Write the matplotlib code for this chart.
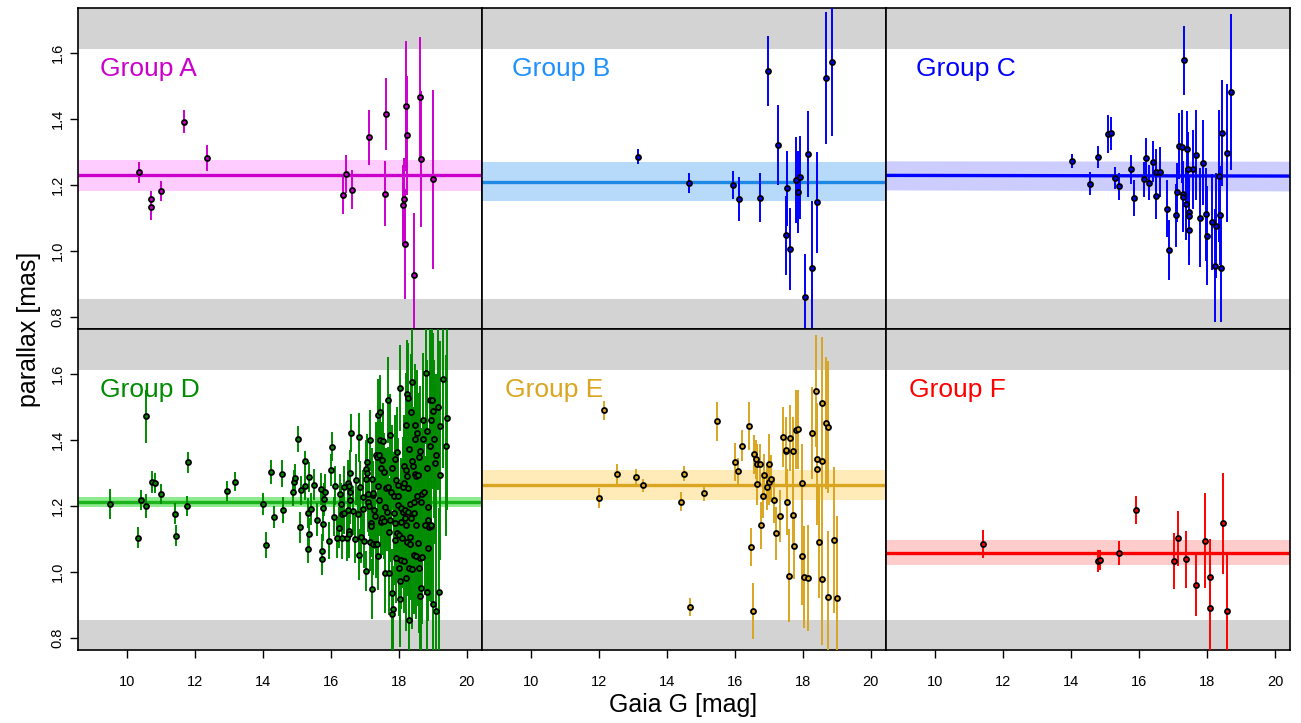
import matplotlib

matplotlib.use("Agg")
import matplotlib.pyplot as plt
import numpy as np

plt.rcParams["font.family"] = ["Liberation Sans", "DejaVu Sans"]

# --- data (Gaia G [mag], parallax [mas], parallax error [mas]) ---
a_mag = [10.36, 10.73, 10.73, 11.01, 11.69, 12.36, 16.35, 16.46, 16.62, 17.13,
         17.59, 17.62, 18.14, 18.13, 18.18, 18.21, 18.23, 18.44, 18.61, 18.65, 19.02]
a_plx = [1.239, 1.157, 1.134, 1.182, 1.392, 1.282, 1.170, 1.234, 1.186, 1.344,
         1.174, 1.416, 1.158, 1.140, 1.022, 1.439, 1.351, 0.926, 1.465, 1.280, 1.217]
a_err = [0.032, 0.025, 0.040, 0.030, 0.036, 0.040, 0.059, 0.058, 0.060, 0.083,
         0.099, 0.109, 0.124, 0.120, 0.167, 0.197, 0.180, 0.190, 0.184, 0.206, 0.272]

b_mag = [13.14, 14.64, 15.95, 16.13, 16.74, 16.97, 17.28, 17.50, 17.53, 17.63,
         17.80, 17.85, 17.91, 18.05, 18.15, 18.27, 18.43, 18.67, 18.87]
b_plx = [1.285, 1.206, 1.200, 1.157, 1.162, 1.545, 1.322, 1.048, 1.190, 1.006,
         1.216, 1.179, 1.223, 0.860, 1.295, 0.950, 1.148, 1.525, 1.572]
b_err = [0.023, 0.031, 0.043, 0.066, 0.075, 0.107, 0.121, 0.120, 0.114, 0.124,
         0.130, 0.123, 0.126, 0.130, 0.130, 0.200, 0.153, 0.200, 0.224]

c_mag = [14.04, 14.57, 14.81, 15.08, 15.19, 15.29, 15.40, 15.78, 15.85, 16.16,
         16.22, 16.30, 16.42, 16.50, 16.51, 16.62, 16.83, 16.87, 17.08, 17.13,
         17.18, 17.27, 17.29, 17.31, 17.34, 17.37, 17.42, 17.43, 17.47, 17.48,
         17.48, 17.60, 17.68, 17.79, 17.88, 17.96, 18.00, 18.14, 18.25, 18.28,
         18.34, 18.39, 18.40, 18.43, 18.59, 18.70]
c_plx = [1.272, 1.204, 1.285, 1.355, 1.357, 1.221, 1.196, 1.248, 1.160, 1.217,
         1.282, 1.207, 1.270, 1.239, 1.167, 1.239, 1.128, 1.003, 1.108, 1.178,
         1.319, 1.316, 1.173, 1.163, 1.577, 1.142, 1.309, 1.247, 1.118, 1.106,
         1.064, 1.247, 1.292, 1.101, 1.268, 1.111, 1.047, 1.089, 0.956, 1.077,
         1.226, 1.108, 0.950, 1.358, 1.297, 1.481]
c_err = [0.022, 0.034, 0.033, 0.058, 0.050, 0.034, 0.040, 0.044, 0.055, 0.052,
         0.060, 0.054, 0.062, 0.070, 0.070, 0.075, 0.086, 0.092, 0.096, 0.090,
         0.100, 0.110, 0.100, 0.105, 0.105, 0.110, 0.115, 0.112, 0.110, 0.118,
         0.105, 0.120, 0.136, 0.150, 0.130, 0.140, 0.150, 0.145, 0.170, 0.160,
         0.200, 0.150, 0.165, 0.160, 0.210, 0.237]

d_mag = [9.51, 10.32, 10.42, 10.56, 10.57, 10.74, 10.83, 11.00, 11.41, 11.45,
         11.77, 11.79, 12.96, 13.20, 14.00, 14.09, 14.23, 14.33, 14.58, 14.60,
         14.88, 14.91, 14.96, 15.05, 15.09, 15.12, 15.23, 15.24, 15.33, 15.33,
         15.36, 15.37, 15.41, 15.52, 15.60, 15.70, 15.73, 15.74, 15.78, 15.78,
         15.80, 15.82, 15.94, 16.00, 16.04, 16.10, 16.12, 16.17, 16.23, 16.28,
         16.30, 16.32, 16.34, 16.38, 16.40, 16.48, 16.50, 16.52, 16.53, 16.54,
         16.55, 16.56, 16.58, 16.58, 16.61, 16.65, 16.70, 16.75, 16.80, 16.82,
         16.82, 16.86, 16.90, 16.95, 16.96, 16.99, 17.03, 17.04, 17.05, 17.06,
         17.07, 17.10, 17.11, 17.13, 17.15, 17.16, 17.18, 17.19, 17.21, 17.22,
         17.23, 17.23, 17.25, 17.27, 17.30, 17.33, 17.34, 17.36, 17.37, 17.38,
         17.39, 17.40, 17.41, 17.42, 17.44, 17.46, 17.47, 17.48, 17.49, 17.51,
         17.52, 17.54, 17.56, 17.58, 17.59, 17.61, 17.63, 17.65, 17.67, 17.68,
         17.70, 17.72, 17.75, 17.75, 17.78, 17.79, 17.80, 17.81, 17.84, 17.85,
         17.86, 17.88, 17.90, 17.90, 17.92, 17.93, 17.94, 17.95, 17.97, 17.98,
         17.99, 18.00, 18.02, 18.03, 18.04, 18.05, 18.06, 18.07, 18.08, 18.10,
         18.11, 18.12, 18.14, 18.15, 18.16, 18.17, 18.19, 18.20, 18.20, 18.21,
         18.21, 18.23, 18.24, 18.25, 18.26, 18.27, 18.28, 18.29, 18.30, 18.31,
         18.32, 18.33, 18.34, 18.35, 18.36, 18.38, 18.39, 18.40, 18.42, 18.44,
         18.45, 18.46, 18.47, 18.48, 18.49, 18.50, 18.51, 18.52, 18.54, 18.55,
         18.56, 18.58, 18.59, 18.60, 18.61, 18.62, 18.63, 18.64, 18.65, 18.67,
         18.68, 18.71, 18.72, 18.75, 18.77, 18.81, 18.82, 18.83, 18.84, 18.85,
         18.86, 18.87, 18.89, 18.91, 18.93, 18.94, 18.95, 18.96, 18.99, 19.00,
         19.01, 19.04, 19.07, 19.09, 19.10, 19.16, 19.19, 19.20, 19.22, 19.30,
         19.39, 19.42]
d_plx = [1.205, 1.104, 1.219, 1.200, 1.472, 1.272, 1.269, 1.237, 1.177, 1.110,
         1.200, 1.332, 1.245, 1.274, 1.206, 1.082, 1.303, 1.166, 1.298, 1.188,
         1.241, 1.272, 1.284, 1.403, 1.135, 1.248, 1.337, 1.262, 1.178, 1.071,
         1.116, 1.288, 1.190, 1.264, 1.158, 1.251, 1.040, 1.063, 1.146, 1.194,
         1.221, 1.243, 1.095, 1.309, 1.380, 1.168, 1.262, 1.102, 1.134, 1.236,
         1.205, 1.175, 1.102, 1.180, 1.257, 1.102, 1.188, 1.270, 1.125, 1.115,
         1.261, 1.218, 1.243, 1.301, 1.421, 1.186, 1.100, 1.280, 1.177, 1.408,
         1.052, 1.257, 1.107, 1.226, 1.191, 1.095, 1.003, 1.281, 1.312, 1.333,
         1.299, 1.236, 1.213, 1.199, 1.399, 1.092, 1.148, 1.138, 1.281, 0.948,
         1.086, 1.234, 1.238, 1.188, 1.170, 1.354, 1.084, 1.349, 1.086, 1.474,
         1.050, 1.261, 1.355, 1.218, 1.399, 1.484, 1.151, 1.314, 1.155, 1.165,
         1.340, 1.397, 1.155, 1.304, 0.996, 1.198, 1.254, 1.183, 1.520, 1.256,
         1.120, 0.996, 1.415, 1.157, 1.243, 0.874, 1.316, 0.938, 0.888, 1.180,
         1.230, 1.096, 1.342, 1.147, 1.278, 1.044, 1.363, 1.117, 1.202, 1.264,
         1.231, 1.013, 1.112, 1.557, 0.973, 0.919, 1.153, 1.035, 1.195, 1.102,
         1.257, 1.181, 1.320, 1.270, 1.034, 1.187, 1.165, 1.446, 1.141, 0.981,
         1.310, 1.292, 1.092, 1.539, 1.528, 1.183, 1.254, 1.372, 1.011, 0.856,
         1.205, 1.086, 1.107, 1.486, 1.163, 1.574, 1.008, 1.337, 1.320, 1.052,
         1.180, 1.211, 1.446, 1.402, 1.297, 1.143, 1.048, 1.291, 1.422, 1.231,
         1.294, 1.089, 1.011, 1.349, 1.365, 1.042, 0.928, 1.213, 0.953, 1.235,
         1.045, 1.459, 1.403, 1.242, 1.141, 1.603, 1.427, 0.939, 1.314, 1.159,
         1.198, 1.074, 1.137, 1.383, 1.520, 1.460, 1.140, 1.143, 1.520, 1.488,
         0.902, 1.403, 1.329, 1.354, 0.883, 1.499, 0.939, 1.294, 1.441, 1.584,
         1.383, 1.467]
d_err = [0.045, 0.032, 0.030, 0.037, 0.080, 0.033, 0.030, 0.031, 0.032, 0.032,
         0.031, 0.032, 0.031, 0.030, 0.033, 0.039, 0.037, 0.033, 0.042, 0.039,
         0.040, 0.038, 0.042, 0.040, 0.048, 0.044, 0.030, 0.045, 0.046, 0.043,
         0.047, 0.045, 0.048, 0.047, 0.050, 0.049, 0.050, 0.052, 0.051, 0.053,
         0.050, 0.054, 0.055, 0.048, 0.044, 0.058, 0.060, 0.058, 0.062, 0.060,
         0.065, 0.062, 0.064, 0.066, 0.063, 0.068, 0.066, 0.070, 0.067, 0.071,
         0.069, 0.072, 0.070, 0.068, 0.058, 0.074, 0.072, 0.076, 0.078, 0.075,
         0.077, 0.080, 0.079, 0.082, 0.081, 0.084, 0.060, 0.085, 0.088, 0.086,
         0.090, 0.087, 0.091, 0.089, 0.092, 0.090, 0.094, 0.093, 0.095, 0.090,
         0.096, 0.094, 0.098, 0.097, 0.100, 0.099, 0.102, 0.101, 0.104, 0.110,
         0.103, 0.106, 0.105, 0.108, 0.107, 0.112, 0.110, 0.109, 0.113, 0.112,
         0.115, 0.114, 0.117, 0.116, 0.119, 0.118, 0.121, 0.120, 0.130, 0.123,
         0.122, 0.125, 0.124, 0.127, 0.126, 0.129, 0.128, 0.131, 0.130, 0.133,
         0.132, 0.135, 0.134, 0.137, 0.136, 0.139, 0.138, 0.141, 0.140, 0.143,
         0.142, 0.145, 0.144, 0.130, 0.147, 0.146, 0.149, 0.148, 0.151, 0.150,
         0.153, 0.152, 0.155, 0.154, 0.157, 0.156, 0.159, 0.158, 0.161, 0.160,
         0.163, 0.162, 0.165, 0.164, 0.167, 0.166, 0.169, 0.168, 0.171, 0.170,
         0.173, 0.172, 0.175, 0.174, 0.177, 0.176, 0.179, 0.178, 0.181, 0.180,
         0.183, 0.182, 0.185, 0.184, 0.187, 0.186, 0.189, 0.188, 0.191, 0.190,
         0.193, 0.192, 0.195, 0.194, 0.197, 0.196, 0.199, 0.198, 0.201, 0.200,
         0.203, 0.205, 0.207, 0.209, 0.211, 0.214, 0.216, 0.218, 0.217, 0.220,
         0.222, 0.221, 0.224, 0.226, 0.228, 0.227, 0.230, 0.232, 0.234, 0.236,
         0.238, 0.240, 0.243, 0.245, 0.247, 0.252, 0.255, 0.257, 0.260, 0.268,
         0.275, 0.280]

e_mag = [12.02, 12.14, 12.55, 13.09, 13.29, 14.43, 14.50, 14.67, 15.08, 15.48,
         16.01, 16.08, 16.22, 16.41, 16.48, 16.52, 16.57, 16.61, 16.64, 16.66,
         16.75, 16.76, 16.83, 16.86, 16.96, 17.00, 17.00, 17.05, 17.14, 17.21,
         17.33, 17.42, 17.49, 17.51, 17.54, 17.58, 17.63, 17.70, 17.72, 17.73,
         17.80, 17.85, 17.97, 17.98, 18.04, 18.14, 18.26, 18.38, 18.41, 18.42,
         18.46, 18.55, 18.57, 18.57, 18.69, 18.73, 18.73, 18.92, 19.01]
e_plx = [1.224, 1.490, 1.296, 1.287, 1.263, 1.213, 1.298, 0.894, 1.239, 1.456,
         1.333, 1.306, 1.383, 1.443, 1.075, 0.881, 1.356, 1.341, 1.268, 1.328,
         1.328, 1.142, 1.230, 1.293, 1.258, 1.328, 1.274, 1.283, 1.217, 1.117,
         1.169, 1.409, 1.367, 1.370, 1.211, 0.989, 1.407, 1.368, 1.173, 1.079,
         1.431, 1.432, 1.049, 1.269, 0.985, 0.981, 1.421, 1.548, 1.311, 1.342,
         1.090, 1.337, 1.512, 0.978, 1.450, 1.438, 0.923, 1.097, 0.920]
e_err = [0.031, 0.029, 0.032, 0.025, 0.020, 0.028, 0.022, 0.026, 0.025, 0.059,
         0.057, 0.040, 0.046, 0.073, 0.058, 0.085, 0.058, 0.060, 0.064, 0.060,
         0.060, 0.071, 0.065, 0.065, 0.070, 0.090, 0.070, 0.070, 0.070, 0.080,
         0.078, 0.090, 0.100, 0.100, 0.100, 0.140, 0.100, 0.100, 0.100, 0.100,
         0.120, 0.120, 0.150, 0.120, 0.155, 0.160, 0.140, 0.170, 0.170, 0.170,
         0.170, 0.180, 0.200, 0.200, 0.200, 0.200, 0.200, 0.220, 0.250]

f_mag = [11.41, 14.81, 14.85, 15.42, 15.92, 17.02, 17.16, 17.37, 17.67, 17.94,
         18.09, 18.09, 18.48, 18.59]
f_plx = [1.085, 1.033, 1.037, 1.058, 1.187, 1.033, 1.102, 1.039, 0.960, 1.095,
         0.985, 0.890, 1.147, 0.883]
f_err = [0.041, 0.034, 0.030, 0.036, 0.043, 0.084, 0.083, 0.086, 0.092, 0.143,
         0.116, 0.150, 0.153, 0.170]

# mean parallax of each group: [value at left edge, value at right edge], half width of band
group_names = ["Group A", "Group B", "Group C", "Group D", "Group E", "Group F"]
mean_left = [1.230, 1.210, 1.229, 1.211, 1.264, 1.059]
mean_right = [1.230, 1.210, 1.227, 1.211, 1.264, 1.059]
band_left = [0.047, 0.060, 0.044, 0.015, 0.045, 0.039]
band_right = [0.047, 0.060, 0.045, 0.015, 0.045, 0.039]

excluded_low = 0.855
excluded_high = 1.612

text_col = ["#CC00CC", "#1E90FF", "#0000FF", "#008B00", "#DAA520", "#FF0000"]
bar_col = ["#CC00CC", "#0000FF", "#0000FF", "#008B00", "#DAA520", "#FF0000"]
line_col = ["#CC00CC", "#1E88E5", "#0000FF", "#1DB31D", "#DAA520", "#FF0000"]
band_col = ["#FFCCFF", "#B8DAFA", "#CCCCFF", "#8EEA8E", "#FFEBB8", "#FFCCCC"]
label_x = [9.22, 9.44, 9.44, 9.22, 9.25, 9.25]

data = [(a_mag, a_plx, a_err), (b_mag, b_plx, b_err), (c_mag, c_plx, c_err),
        (d_mag, d_plx, d_err), (e_mag, e_plx, e_err), (f_mag, f_plx, f_err)]

xlim = (8.56, 20.44)
ylim = (0.764, 1.736)

fig = plt.figure(figsize=(13.01, 7.23), dpi=100)
gs = fig.add_gridspec(2, 3, left=0.0597, right=0.9915, top=0.989, bottom=0.101,
                      wspace=0, hspace=0)

for i in range(6):
    row, col = divmod(i, 3)
    ax = fig.add_subplot(gs[row, col])
    mag, plx, err = data[i]

    ax.axhspan(ylim[0] - 1, excluded_low, color="#D3D3D3", lw=0, zorder=0)
    ax.axhspan(excluded_high, ylim[1] + 1, color="#D3D3D3", lw=0, zorder=0)

    xs = np.array(xlim)
    mid = np.array([mean_left[i], mean_right[i]])
    half = np.array([band_left[i], band_right[i]])
    ax.fill_between(xs, mid - half, mid + half, color=band_col[i], lw=0, zorder=1)
    ax.plot(xs, mid, color=line_col[i], lw=2.4, zorder=2)

    ax.errorbar(mag, plx, yerr=err, fmt="o", ms=3.6, mfc=bar_col[i], mec="black",
                mew=1.3, ecolor=bar_col[i], elinewidth=1.4, capsize=0, zorder=3)

    ax.text(label_x[i], 1.552, group_names[i], color=text_col[i], fontsize=19,
            ha="left", va="center")

    ax.set_xlim(xlim)
    ax.set_ylim(ylim)
    for s in ax.spines.values():
        s.set_linewidth(1.2)

    ax.tick_params(direction="out", length=6, width=1, labelsize=10.5)
    ax.set_xticks([10, 12, 14, 16, 18, 20])
    ax.set_yticks([0.8, 1.0, 1.2, 1.4, 1.6])
    if row == 0:
        ax.tick_params(axis="x", bottom=False, labelbottom=False)
    else:
        ax.tick_params(axis="x", pad=12)
    if col > 0:
        ax.tick_params(axis="y", left=False, labelleft=False)
    else:
        ax.set_yticklabels(["0.8", "1.0", "1.2", "1.4", "1.6"], rotation=90,
                           va="center")

fig.text(0.525, 0.025, "Gaia G [mag]", ha="center", va="center", fontsize=18)
fig.text(0.022, 0.545, "parallax [mas]", ha="center", va="center", fontsize=18,
         rotation=90)

fig.savefig("out.png", dpi=100)
